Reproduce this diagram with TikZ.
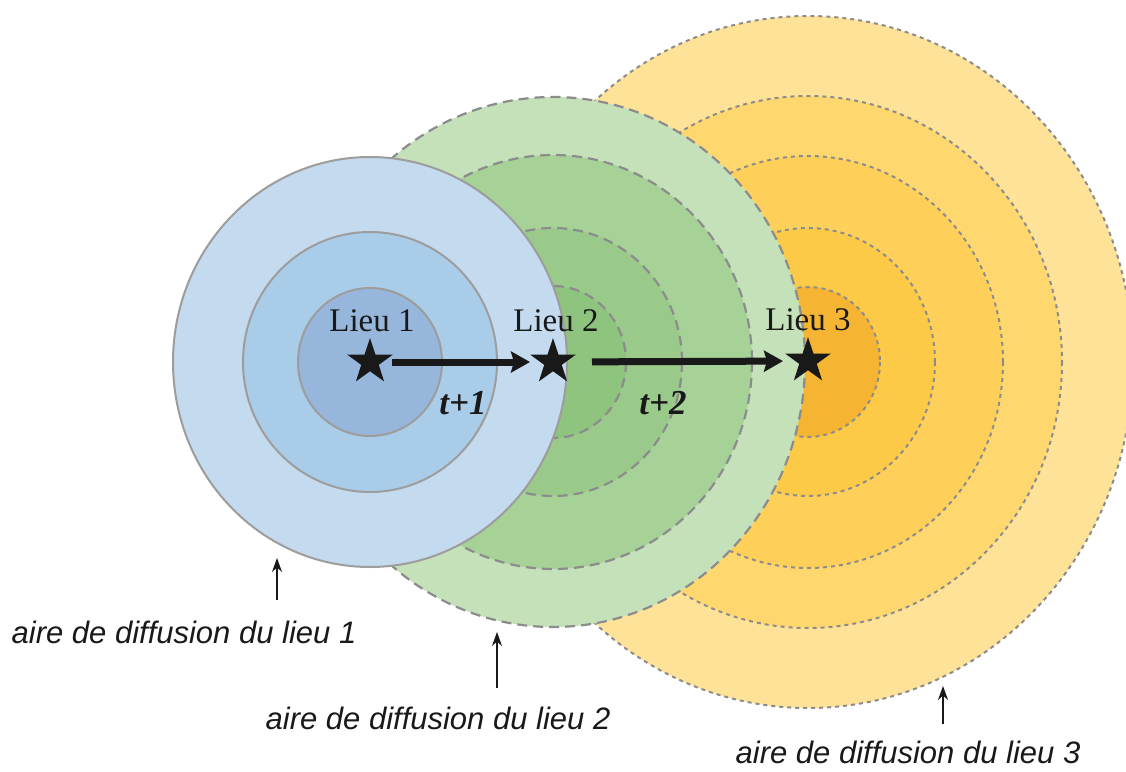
\documentclass[tikz,border=0pt]{standalone}
\usepackage{fontspec}
\setmainfont{Liberation Serif}
\setsansfont{Liberation Sans}
\usetikzlibrary{arrows.meta,positioning,shapes.geometric}
\definecolor{zgray}{HTML}{8C8C8C}
\definecolor{bA}{HTML}{C4DAEE}
\definecolor{bB}{HTML}{A9CCE8}
\definecolor{bC}{HTML}{97B6DB}
\definecolor{gA}{HTML}{C5E1B9}
\definecolor{gB}{HTML}{A6D197}
\definecolor{gC}{HTML}{9ACA8A}
\definecolor{gD}{HTML}{8FC47F}
\definecolor{yA}{HTML}{FEE297}
\definecolor{yB}{HTML}{FED76E}
\definecolor{yC}{HTML}{FED05A}
\definecolor{yD}{HTML}{FDCA48}
\definecolor{yE}{HTML}{F5B431}

\begin{document}
\begin{tikzpicture}[x=0.5pt,y=-0.5pt,every node/.style={text=black!90},zoneb/.style={draw=zgray!85,line width=1pt},zoneg/.style={draw=zgray,line width=1.1pt,dash pattern=on 5pt off 3pt},zoney/.style={draw=zgray,line width=1pt,dash pattern=on 2pt off 2pt},lieu/.style={star,star points=5,star point ratio=2.6,fill=black!90,inner sep=0pt,minimum size=24pt},place/.style={font=\fontsize{16.5}{19}\selectfont,inner sep=0pt},delay/.style={font=\fontsize{17.5}{20}\selectfont\bfseries\itshape},aire/.style={font=\fontsize{15.5}{18}\selectfont\sffamily\itshape},move/.style={-{Stealth[length=9.5pt,width=10.5pt,inset=1.5pt]},line width=3.5pt,black!90},point/.style={-{Stealth[length=7pt,width=5pt]},line width=0.8pt,black!90}]
\useasboundingbox[fill=white] (0,0) rectangle (1126,772);
% aire du lieu 3
\draw[zoney,fill=yA] (808,362) ellipse [x radius=325,y radius=346];
\draw[zoney,fill=yB] (808,362) ellipse [x radius=254,y radius=266];
\draw[zoney,fill=yC] (808,362) ellipse [x radius=195,y radius=206];
\draw[zoney,fill=yD] (808,362) ellipse [x radius=127,y radius=134];
\draw[zoney,fill=yE] (808,362) ellipse [x radius=72,y radius=75];
% aire du lieu 2
\draw[zoneg,fill=gA] (553,362) ellipse [x radius=252,y radius=265];
\draw[zoneg,fill=gB] (553,362) ellipse [x radius=199,y radius=207];
\draw[zoneg,fill=gC] (553,362) ellipse [x radius=129,y radius=134];
\draw[zoneg,fill=gD] (553,362) ellipse [x radius=73,y radius=76];
% aire du lieu 1
\draw[zoneb,fill=bA] (370,362) ellipse [x radius=197,y radius=205];
\draw[zoneb,fill=bB] (370,362) ellipse [x radius=127,y radius=130];
\draw[zoneb,fill=bC] (370,362) ellipse [x radius=72,y radius=74];

\node[lieu] (s1) at (370,362) {};
\node[lieu] (s2) at (553,362) {};
\node[lieu] (s3) at (808,361) {};
\node[place,above=2pt of s1,xshift=1pt] (n1) {Lieu 1};
\node[place,above=2pt of s2,xshift=1.5pt] (n2) {Lieu 2};
\node[place,above=2pt of s3] (n3) {Lieu 3};
\draw[move,shorten <=11pt,shorten >=11.5pt] (s1.center) -- (s2.center);
\draw[move,shorten <=19.5pt,shorten >=12.5pt] (s2.center) -- (s3.center);
\node[delay] (t1) at (463,403) {t+1};
\node[delay] (t2) at (663,403) {t+2};

\node[aire] (a1) at (184,632) {aire de diffusion du lieu 1};
\node[aire] (a2) at (438,718) {aire de diffusion du lieu 2};
\node[aire] (a3) at (908,752) {aire de diffusion du lieu 3};
\coordinate (p1) at (277,558);
\coordinate (p2) at (497,632);
\coordinate (p3) at (943,686);
\draw[point] ([yshift=7pt]a1.north -| p1) -- (p1);
\draw[point] ([yshift=6pt]a2.north -| p2) -- (p2);
\draw[point] ([yshift=5pt]a3.north -| p3) -- (p3);
\end{tikzpicture}
\end{document}
